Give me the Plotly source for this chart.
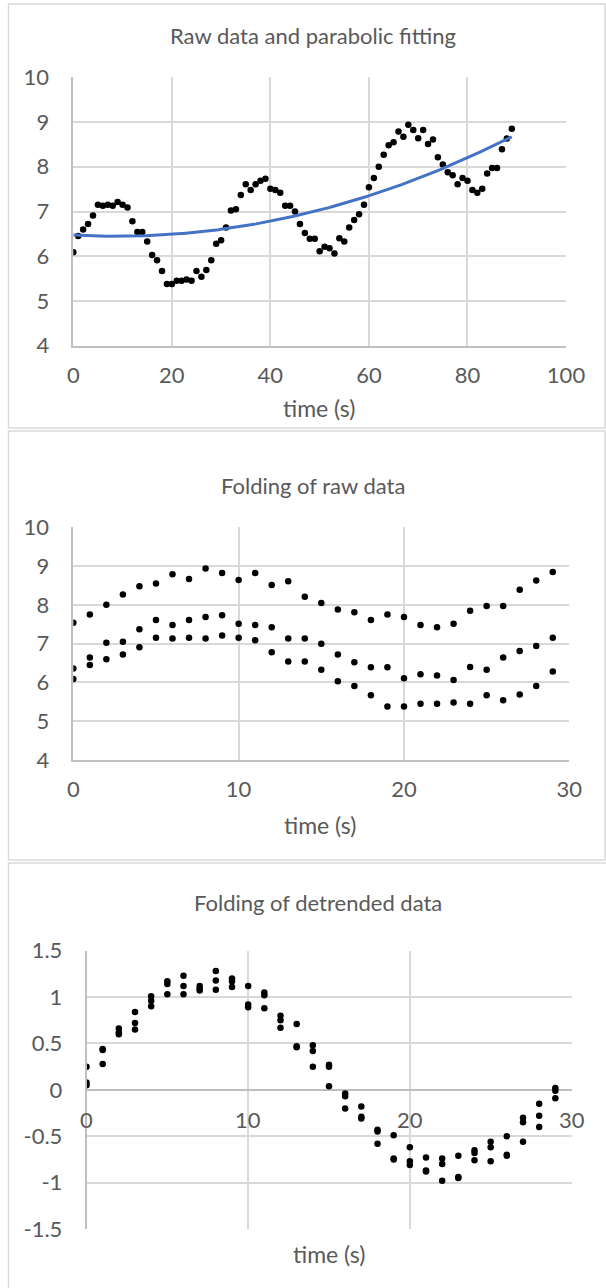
import numpy as np
import plotly.graph_objects as go

# ---------------- data ----------------
phase = list(range(30))  # seconds within one 30 s period
cycle1 = [6.09, 6.45, 6.60, 6.72, 6.91, 7.15, 7.13, 7.15, 7.13, 7.21, 7.15, 7.09, 6.78, 6.54, 6.54,
          6.33, 6.03, 5.91, 5.67, 5.38, 5.38, 5.45, 5.45, 5.48, 5.45, 5.67, 5.54, 5.69, 5.91, 6.28]
cycle2 = [6.36, 6.64, 7.02, 7.05, 7.37, 7.61, 7.48, 7.61, 7.69, 7.73, 7.51, 7.48, 7.42, 7.13, 7.13,
          7.00, 6.72, 6.52, 6.39, 6.39, 6.11, 6.21, 6.18, 6.06, 6.40, 6.33, 6.64, 6.81, 6.94, 7.15]
cycle3 = [7.54, 7.75, 8.00, 8.27, 8.48, 8.55, 8.79, 8.67, 8.94, 8.82, 8.64, 8.82, 8.51, 8.61, 8.21,
          8.05, 7.88, 7.81, 7.61, 7.75, 7.69, 7.48, 7.42, 7.51, 7.85, 7.97, 7.97, 8.39, 8.63, 8.85]

# detrended data, folded (three values at each phase)
det_a = [0.25, 0.44, 0.66, 0.84, 1.01, 1.17, 1.23, 1.12, 1.28, 1.20, 1.12, 1.05, 0.80, 0.71, 0.48,
         0.27, -0.04, -0.18, -0.43, -0.49, -0.62, -0.73, -0.74, -0.71, -0.65, -0.56, -0.50, -0.30, -0.15, 0.02]
det_b = [0.08, 0.43, 0.62, 0.72, 0.96, 1.14, 1.12, 1.09, 1.18, 1.17, 0.92, 1.02, 0.75, 0.47, 0.42,
         0.25, -0.07, -0.29, -0.45, -0.74, -0.77, -0.87, -0.80, -0.94, -0.68, -0.62, -0.70, -0.35, -0.28, -0.01]
det_c = [0.05, 0.28, 0.60, 0.65, 0.90, 1.03, 1.03, 1.07, 1.08, 1.11, 0.89, 0.88, 0.67, 0.46, 0.25,
         0.04, -0.20, -0.31, -0.58, -0.75, -0.81, -0.88, -0.98, -0.95, -0.76, -0.77, -0.71, -0.56, -0.40, -0.09]

titles = ["Raw data and parabolic fitting", "Folding of raw data", "Folding of detrended data"]
x_title = "time (s)"
x1_ticks = [0, 20, 40, 60, 80, 100]
x2_ticks = [0, 10, 20, 30]
y1_ticks = [4, 5, 6, 7, 8, 9, 10]
y3_ticks = [-1.5, -1, -0.5, 0, 0.5, 1, 1.5]
y3_text = ["-1.5", "-1", "-0.5", "0", "0.5", "1", "1.5"]

# ---------------- derived ----------------
time = list(range(90))
raw = cycle1 + cycle2 + cycle3
coef = np.polyfit(time, raw, 2)          # parabolic fit of the raw data
t_fit = np.linspace(0, 89, 200)
y_fit = np.polyval(coef, t_fit)

W, H = 606, 1288
def px(x):
    return x / W
def py(y):
    return 1 - y / H

GREY_TXT = "#595959"
GRID = "#d9d9d9"
AXLINE = "#bfbfbf"
FONT = "Lato, Open Sans, sans-serif"
TICK_SIZE = 22
mk = dict(color="black", size=6.5)

fig = go.Figure()
fig.add_trace(go.Scatter(x=time, y=raw, mode="markers", marker=mk, xaxis="x", yaxis="y", showlegend=False))
fig.add_trace(go.Scatter(x=t_fit, y=y_fit, mode="lines", line=dict(color="#4472C4", width=3),
                         xaxis="x", yaxis="y", showlegend=False))
fig.add_trace(go.Scatter(x=phase * 3, y=cycle1 + cycle2 + cycle3, mode="markers", marker=mk,
                         xaxis="x2", yaxis="y2", showlegend=False))
fig.add_trace(go.Scatter(x=phase * 3, y=det_a + det_b + det_c, mode="markers", marker=mk,
                         xaxis="x3", yaxis="y3", showlegend=False))

tickfont = dict(family=FONT, size=TICK_SIZE, color=GREY_TXT)
common = dict(showgrid=True, gridcolor=GRID, gridwidth=1.5, zeroline=False, showline=True,
              linecolor=AXLINE, linewidth=1.5, ticks="outside", tickcolor="rgba(0,0,0,0)",
              tickfont=tickfont, fixedrange=True, automargin=False)

fig.update_layout(
    width=W, height=H, autosize=False, margin=dict(l=0, r=0, t=0, b=0, pad=0, autoexpand=False),
    paper_bgcolor="white", plot_bgcolor="white",
    xaxis=dict(domain=[px(73.3), px(566)], range=[0, 100], tickvals=x1_ticks,
               anchor="y", ticklen=9, **common),
    yaxis=dict(domain=[py(345.7), py(77.3)], range=[4, 10], tickvals=y1_ticks,
               anchor="x", ticklen=18, **common),
    xaxis2=dict(domain=[px(73.3), px(569.3)], range=[0, 30], tickvals=x2_ticks,
                anchor="y2", ticklen=9, **common),
    yaxis2=dict(domain=[py(760), py(527.3)], range=[4, 10], tickvals=y1_ticks,
                anchor="x2", ticklen=18, **common),
    xaxis3=dict(domain=[px(86.5), px(571.5)], range=[0, 30], tickvals=x2_ticks,
                anchor="y3", showticklabels=False, showgrid=True, gridcolor=GRID, gridwidth=1.5,
                zeroline=False, showline=False, fixedrange=True),
    yaxis3=dict(domain=[py(1229), py(950.7)], range=[-1.5, 1.5], tickvals=y3_ticks, ticktext=y3_text,
                anchor="x3", ticklen=18, **common),
)
fig.update_yaxes(selector=dict(anchor="x3"), zeroline=True, zerolinecolor=AXLINE, zerolinewidth=1.5)

# x tick labels of the detrended panel sit under the zero line (axis crosses at 0)
for v in x2_ticks:
    fig.add_annotation(x=v, y=py(1119), xref="x3", yref="paper", text=str(v), showarrow=False,
                       font=tickfont, xanchor="center", yanchor="middle")

# panel frames
frames = [(8.5, 4, 605, 428), (8.5, 431, 605, 860), (8.5, 863, 607, 1292)]
for x0, y0, x1, y1 in frames:
    fig.add_shape(type="rect", xref="paper", yref="paper", x0=px(x0), x1=px(x1), y0=py(y1), y1=py(y0),
                  line=dict(color=GRID, width=1.5), fillcolor="rgba(0,0,0,0)", layer="below")

# titles and axis titles
title_pos = [(313, 35), (313, 486), (318, 902)]
for (x, y), t in zip(title_pos, titles):
    fig.add_annotation(x=px(x), y=py(y), xref="paper", yref="paper", text=t, showarrow=False,
                       font=dict(family=FONT, size=22, color=GREY_TXT), xanchor="center", yanchor="middle")
xt_pos = [(319, 408), (320, 825), (329, 1254)]
for x, y in xt_pos:
    fig.add_annotation(x=px(x), y=py(y), xref="paper", yref="paper", text=x_title, showarrow=False,
                       font=dict(family=FONT, size=23, color=GREY_TXT), xanchor="center", yanchor="middle")

post = (
    "var gd=document.getElementById('{plot_id}');"
    "document.documentElement.style.margin='0';document.documentElement.style.overflow='hidden';"
    "document.body.style.margin='0';document.body.style.padding='0';document.body.style.overflow='hidden';"
    "gd.style.position='fixed';gd.style.left='0px';gd.style.top='0px';"
)
fig.write_html("out.html", config={"displayModeBar": False}, post_script=post)
